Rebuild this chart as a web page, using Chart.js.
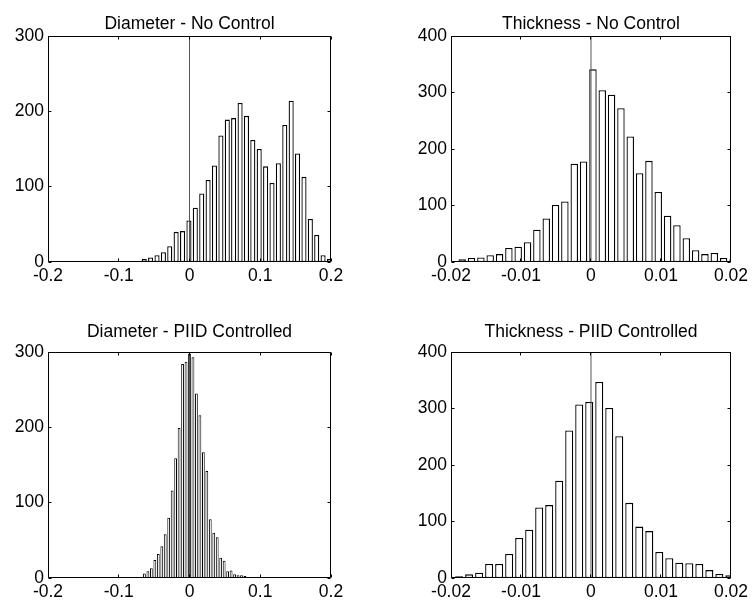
<!DOCTYPE html>
<html><head><meta charset="utf-8">
<script src="https://cdn.jsdelivr.net/npm/chart.js@4/dist/chart.umd.min.js"></script>
<style>
html,body{margin:0;padding:0;background:#fff;}
#wrap{position:relative;width:752px;height:606px;background:#fff;}
.p{position:absolute;width:376px;height:303px;}
canvas{display:block;}
</style></head><body>
<div id="wrap">
<div class="p" style="left:0;top:0"><canvas id="c1" width="376" height="303"></canvas></div>
<div class="p" style="left:376px;top:0"><canvas id="c2" width="376" height="303"></canvas></div>
<div class="p" style="left:0;top:303px"><canvas id="c3" width="376" height="303"></canvas></div>
<div class="p" style="left:376px;top:303px"><canvas id="c4" width="376" height="303"></canvas></div>
</div>
<script>
// ---- data ----
const titles = ['Diameter - No Control','Thickness - No Control','Diameter - PIID Controlled','Thickness - PIID Controlled'];

const diamNoCtrlBins = [-0.0640,-0.0550,-0.0459,-0.0369,-0.0279,-0.0189,-0.0098,-0.0008,0.0082,0.0173,0.0263,0.0353,0.0444,0.0534,0.0624,0.0715,0.0805,0.0895,0.0985,0.1076,0.1166,0.1256,0.1347,0.1437,0.1527,0.1618,0.1708,0.1798,0.1888,0.1979];
const diamNoCtrlCounts = [4,6,9,13,21,40,41,55,72,91,109,128,168,189,191,211,194,162,150,127,105,131,182,214,144,113,57,36,9,4];

const thickNoCtrlBins = [-0.01840,-0.01707,-0.01573,-0.01440,-0.01306,-0.01173,-0.01040,-0.00906,-0.00773,-0.00639,-0.00506,-0.00373,-0.00239,-0.00106,0.00028,0.00161,0.00294,0.00428,0.00561,0.00695,0.00828,0.00961,0.01095,0.01228,0.01362,0.01495,0.01628,0.01762,0.01895,0.02029];
const thickNoCtrlCounts = [5,7,8,12,14,25,27,35,57,77,101,107,174,178,341,304,296,272,222,157,179,124,82,65,42,21,14,16,7,5];

const diamPiidBins = [-0.0637,-0.0588,-0.0539,-0.0490,-0.0441,-0.0392,-0.0343,-0.0294,-0.0245,-0.0196,-0.0147,-0.0098,-0.0049,0.0000,0.0049,0.0098,0.0147,0.0196,0.0245,0.0294,0.0343,0.0392,0.0441,0.0490,0.0539,0.0588,0.0637,0.0686,0.0735,0.0784];
const diamPiidCounts = [6,9,13,24,32,42,58,80,116,159,199,284,287,298,293,245,216,167,142,78,60,54,27,23,9,10,5,3.5,3.5,2.6];

const thickPiidBins = [-0.01884,-0.01741,-0.01598,-0.01455,-0.01312,-0.01169,-0.01026,-0.00883,-0.00740,-0.00597,-0.00454,-0.00311,-0.00168,-0.00025,0.00118,0.00261,0.00404,0.00547,0.00690,0.00833,0.00976,0.01119,0.01262,0.01405,0.01548,0.01691,0.01834,0.01977];
const thickPiidCounts = [3,6.5,9.4,25,25,42.5,71,85.5,125,129,172,261,307,311.5,347,301,251,133,91,83,46,35,27,26,25,14,7,5];

const diamXTicks = [-0.2,-0.1,0,0.1,0.2];
const diamXLabels = ['-0.2','-0.1','0','0.1','0.2'];
const thickXTicks = [-0.02,-0.01,0,0.01,0.02];
const thickXLabels = ['-0.02','-0.01','0','0.01','0.02'];
const diamYTicks = [0,100,200,300];
const thickYTicks = [0,100,200,300,400];
const zeroLineX = 0;

// ---- rendering ----
const FS = 17.5;
const FONT = {family:'"Liberation Sans", Arial, Helvetica, sans-serif', size:FS};
Chart.defaults.color = '#000';
Chart.defaults.font = FONT;

const frame = {
  id:'frame',
  afterDraw(chart){
    const {ctx, chartArea:a, scales} = chart;
    const x = scales.x, y = scales.y;
    const f = v => Math.floor(v) + 0.5;
    ctx.save();
    ctx.strokeStyle = '#000';
    ctx.lineWidth = 1;
    const L = f(a.left), R = f(a.right - 0.01), T = f(a.top), B = f(a.bottom - 0.01);
    ctx.beginPath();
    ctx.rect(L, T, R - L, B - T);
    const tl = 3;
    x.ticks.forEach(t => {
      const px = f(x.getPixelForValue(t.value));
      ctx.moveTo(px, B); ctx.lineTo(px, B - tl);
      ctx.moveTo(px, T); ctx.lineTo(px, T + tl);
    });
    y.ticks.forEach(t => {
      const py = f(y.getPixelForValue(t.value));
      ctx.moveTo(L, py); ctx.lineTo(L + tl, py);
      ctx.moveTo(R, py); ctx.lineTo(R - tl, py);
    });
    ctx.stroke();
    ctx.restore();
  }
};

function makeChart(id, title, bins, counts, xTicks, xLabels, yTicks, g){
  const ymax = yTicks[yTicks.length-1];
  const lh = FS * 1.2;
  return new Chart(document.getElementById(id), {
    type:'bar',
    data:{
      datasets:[
        {
          type:'line',
          order:0,
          data:[{x:zeroLineX,y:0},{x:zeroLineX,y:ymax}],
          borderColor:'#555',
          borderWidth:1,
          pointRadius:0,
          fill:false
        },
        {
          order:1,
          data: bins.map((b,i)=>({x:b, y:counts[i]})),
          backgroundColor:'#fff',
          borderColor:'#000',
          borderWidth:g.bw,
          borderSkipped:false,
          barPercentage:0.8,
          categoryPercentage:1.0
        }
      ]
    },
    options:{
      responsive:false,
      animation:false,
      devicePixelRatio:1,
      layout:{padding:{left:g.padL, right:g.padR, top:0, bottom:0}},
      plugins:{
        legend:{display:false},
        tooltip:{enabled:false},
        title:{display:true, text:title, fullSize:false, color:'#000',
               font:{family:FONT.family, size:FS, weight:'normal'},
               padding:{top:g.tCenter - lh/2, bottom:g.areaTop - g.tCenter - lh/2}}
      },
      scales:{
        x:{
          type:'linear', offset:false,
          min:xTicks[0], max:xTicks[xTicks.length-1],
          grid:{display:false, drawTicks:false},
          border:{display:false},
          afterBuildTicks:s=>{ s.ticks = xTicks.map(v=>({value:v})); },
          afterFit:s=>{ s.height = g.xH; },
          ticks:{padding:14.5 - lh/2, maxRotation:0, autoSkip:false,
                 callback:(v,i)=>xLabels[i]}
        },
        y:{
          type:'linear',
          min:0, max:ymax,
          grid:{display:false, drawTicks:false},
          border:{display:false},
          afterBuildTicks:s=>{ s.ticks = yTicks.map(v=>({value:v})); },
          afterFit:s=>{ s.width = g.yW; },
          ticks:{padding:4, autoSkip:false, callback:(v,i)=>String(yTicks[i])}
        }
      }
    },
    plugins:[frame]
  });
}

// plot areas: TL 48..331 x 36..262 ; TR 451..733 ; BL y 352..578
makeChart('c1', titles[0], diamNoCtrlBins, diamNoCtrlCounts, diamXTicks, diamXLabels, diamYTicks,
  {padL:0, padR:45, yW:48, xH:41, tCenter:24, areaTop:36, bw:1.3});
makeChart('c2', titles[1], thickNoCtrlBins, thickNoCtrlCounts, thickXTicks, thickXLabels, thickYTicks,
  {padL:27, padR:19, yW:48, xH:41, tCenter:24, areaTop:36, bw:1.3});
makeChart('c3', titles[2], diamPiidBins, diamPiidCounts, diamXTicks, diamXLabels, diamYTicks,
  {padL:0, padR:45, yW:48, xH:28, tCenter:29.5, areaTop:49, bw:1});
makeChart('c4', titles[3], thickPiidBins, thickPiidCounts, thickXTicks, thickXLabels, thickYTicks,
  {padL:27, padR:19, yW:48, xH:28, tCenter:29.5, areaTop:49, bw:1.3});
</script>
</body></html>
